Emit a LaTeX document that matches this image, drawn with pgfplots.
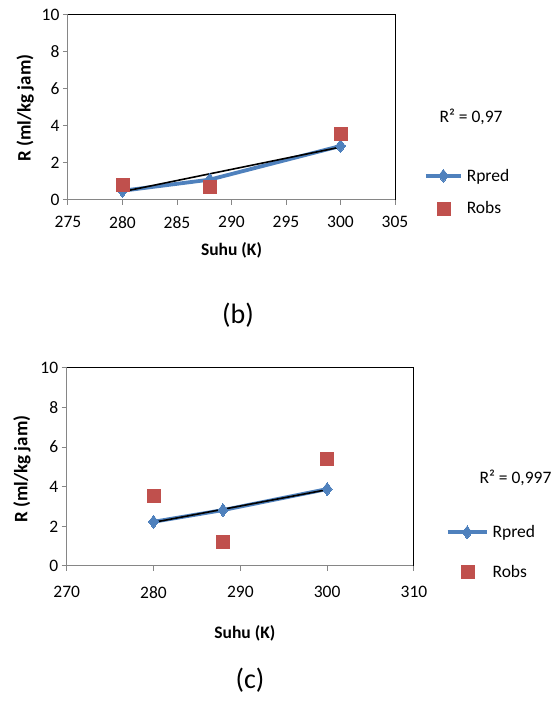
\documentclass[border=0pt]{standalone}
\usepackage{pgfplots}
\pgfplotsset{compat=1.18}
\usepackage{fontspec}
\setmainfont{Carlito}
\definecolor{bblue}{HTML}{4F81BD}
\definecolor{rred}{HTML}{C0504D}
\definecolor{axgray}{HTML}{868686}

\pgfplotsset{
  excel/.style={
    scale only axis,
    axis line style={axgray, line width=1pt},
    xtick pos=left, ytick pos=left,
    tick align=outside,
    major tick length=5pt,
    tick style={axgray, line width=1pt},
    ymin=0, ymax=10, ytick={0,2,...,10},
    font=\fontsize{17.5}{20}\selectfont,
    /pgf/number format/assume math mode=true,
    /pgf/number format/1000 sep={},
    xlabel style={font=\fontsize{17.5}{20}\selectfont\bfseries},
    ylabel style={font=\fontsize{19}{22}\selectfont\bfseries},
    ylabel={R (ml/kg jam)},
    xlabel={Suhu (K)},
    legend cell align=left,
    legend style={draw=none, fill=none, anchor=north west,
      font=\fontsize{17.5}{20}\selectfont, inner sep=0pt,
      /tikz/every odd column/.append style={column sep=2pt}},
    after end axis/.code={
      \draw[black, line width=1pt] (rel axis cs:0,1) -- (rel axis cs:1,1) -- (rel axis cs:1,0);
    },
  },
}

\begin{document}
\begin{tikzpicture}[x=1pt, y=1pt]
\useasboundingbox (0,0) rectangle (555,705);

% (b)
\begin{axis}[excel,
  at={(68pt,505pt)}, anchor=south west,
  width=327pt, height=185pt,
  xmin=275, xmax=305, xtick={275,280,...,305},
  xticklabel style={yshift=-8pt},
  ylabel style={at={(axis description cs:-0.131,0.497)}, anchor=center},
  xlabel style={at={(axis description cs:0.5,-0.27)}, anchor=center},
  legend style={at={(axis description cs:1.088,0.18)}, row sep=15pt},
  legend image code/.code={\draw[mark repeat=2,mark phase=2,#1] plot coordinates {(0pt,0pt)(17.5pt,0pt)(35pt,0pt)};},
]
\addplot[color=bblue, line width=3.8pt, mark=diamond*, mark size=6.5pt,
  mark options={line width=0pt}] coordinates {
  (280, 0.50)
  (288, 1.10)
  (300, 2.92)
};
\addlegendentry{Rpred}
\addplot[only marks, mark=square*, color=rred, mark size=6.5pt] coordinates {
  (280, 0.85)
  (288, 0.72)
  (300, 3.57)
};
\addlegendentry{Robs}
% trend line
\addplot[black, line width=1.6pt, forget plot] coordinates {
  (280, 0.45)
  (300, 2.86)
};
\end{axis}
\node[anchor=west, font=\fontsize{17.5}{20}\selectfont] at (436,588) {R² = 0,97};
\node[font=\fontsize{28}{32}\selectfont] at (238,390) {(b)};

% (c)
\begin{axis}[excel,
  at={(66.7pt,139pt)}, anchor=south west,
  width=347.3pt, height=198.3pt,
  xmin=270, xmax=310, xtick={270,280,...,310},
  xticklabel style={yshift=-12pt},
  ylabel style={at={(axis description cs:-0.129,0.489)}, anchor=center},
  xlabel style={at={(axis description cs:0.513,-0.338)}, anchor=center},
  legend style={at={(axis description cs:1.091,0.215)}, row sep=22pt},
  legend image code/.code={\draw[mark repeat=2,mark phase=2,#1] plot coordinates {(0pt,0pt)(19.5pt,0pt)(39pt,0pt)};},
]
\addplot[color=bblue, line width=3.8pt, mark=diamond*, mark size=6.5pt,
  mark options={line width=0pt}] coordinates {
  (280, 2.23)
  (288, 2.82)
  (300, 3.88)
};
\addlegendentry{Rpred}
\addplot[only marks, mark=square*, color=rred, mark size=6.5pt] coordinates {
  (280, 3.55)
  (288, 1.23)
  (300, 5.40)
};
\addlegendentry{Robs}
% trend line
\addplot[black, line width=1.6pt, forget plot] coordinates {
  (280, 2.20)
  (300, 3.85)
};
\end{axis}
\node[anchor=west, font=\fontsize{17.5}{20}\selectfont] at (476,227) {R² = 0,997};
\node[font=\fontsize{28}{32}\selectfont] at (250,25) {(c)};
\end{tikzpicture}
\end{document}
